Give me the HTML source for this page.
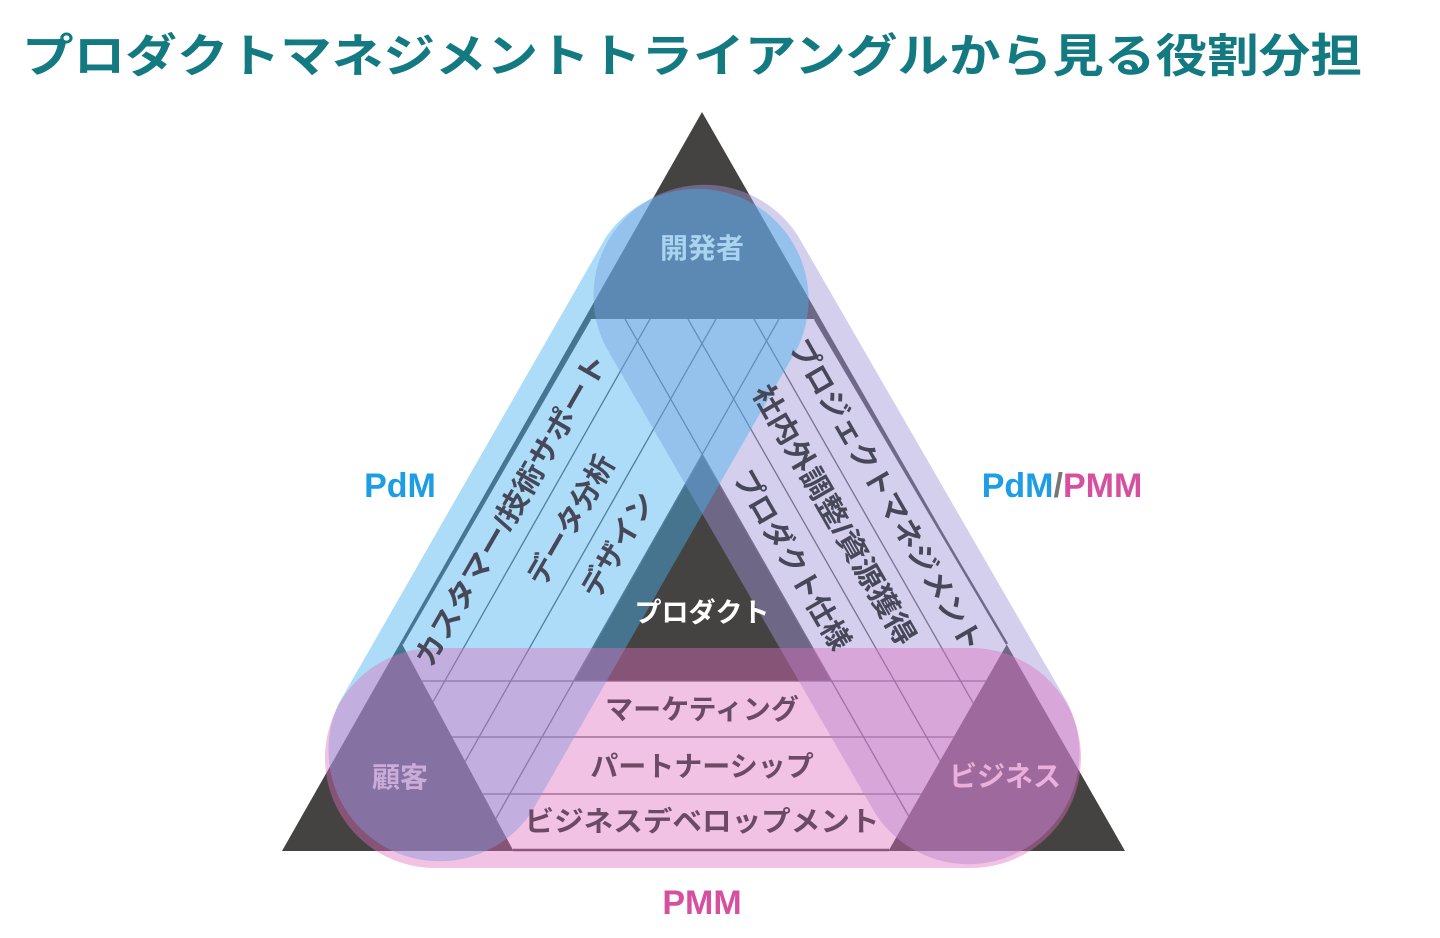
<!DOCTYPE html>
<html><head><meta charset="utf-8"><style>
html,body{margin:0;padding:0;background:#fff;}
svg{display:block;}
text{font-family:"Liberation Sans","Noto Sans CJK JP",sans-serif;font-weight:bold;}
</style></head><body>
<svg width="1440" height="938" viewBox="0 0 1440 938" xmlns="http://www.w3.org/2000/svg">
<defs>
<clipPath id="hex"><polygon points="590,319 815,319 1007,644 889,850 513,850 402,644"/></clipPath>
</defs>
<text x="22" y="72" font-size="46" fill="#137a82" textLength="1340" lengthAdjust="spacingAndGlyphs">プロダクトマネジメントトライアングルから見る役割分担</text>

<polygon points="702,112 282,851 1125,851" fill="#454342"/>
<polygon points="590,319 815,319 1007,644 889,850 513,850 402,644" fill="#ffffff"/>
<polygon points="702,454 573,681 831,681" fill="#454342"/>

<g clip-path="url(#hex)" stroke="#5a5560" stroke-width="1.3" fill="none">
  <line x1="650" y1="319" x2="349" y2="850"/>
  <line x1="716" y1="319" x2="415" y2="850"/>
  <line x1="779" y1="319" x2="478" y2="850"/>
  <line x1="625" y1="319" x2="928" y2="850"/>
  <line x1="688" y1="319" x2="991" y2="850"/>
  <line x1="754" y1="319" x2="1057" y2="850"/>
  <line x1="300" y1="681" x2="1100" y2="681"/>
  <line x1="300" y1="737" x2="1100" y2="737"/>
  <line x1="300" y1="794" x2="1100" y2="794"/>
</g>
<g stroke="#4a4550" stroke-width="2.5" fill="none">
  <line x1="590" y1="319" x2="402" y2="644"/>
  <line x1="815" y1="319" x2="1007" y2="644"/>
  <line x1="513" y1="850" x2="889" y2="850"/>
</g>

<!-- lavender right capsule -->
<path d="M 798,236 L 1067,702 A 111 111 0 0 1 875,813 L 606,347 A 111 111 0 0 1 798,236 Z" fill="rgba(160,148,215,0.45)"/>
<!-- blue left capsule -->
<path d="M 798,347 L 531,813 A 111 111 0 0 1 339,703 L 606,237 A 111 111 0 0 1 798,347 Z" fill="rgba(70,178,238,0.45)"/>
<!-- pink bottom capsule -->
<path d="M 435,648 L 971,648 A 110 110 0 0 1 971,868 L 435,868 A 110 110 0 0 1 435,648 Z" fill="rgba(225,110,190,0.42)"/>

<text x="400" y="497" font-size="34" fill="#1d9de3" text-anchor="middle">PdM</text>
<text x="1062" y="497" font-size="34" text-anchor="middle"><tspan fill="#1d9de3">PdM</tspan><tspan fill="#777">/</tspan><tspan fill="#d5509f">PMM</tspan></text>
<text x="702" y="914" font-size="34" fill="#d5509f" text-anchor="middle">PMM</text>

<text x="702" y="258" font-size="28" fill="#a9d3ee" text-anchor="middle">開発者</text>
<text x="400" y="787" font-size="28" fill="#c9acd8" text-anchor="middle">顧客</text>
<text x="1005" y="786" font-size="28" fill="#eab0da" text-anchor="middle">ビジネス</text>
<text x="702" y="622" font-size="27" fill="#ffffff" text-anchor="middle">プロダクト</text>

<g fill="#47475a" font-size="29">
  <text transform="translate(511,510) rotate(-60)" text-anchor="middle" y="10" textLength="355" lengthAdjust="spacingAndGlyphs">カスタマー/技術サポート</text>
  <text transform="translate(571,520) rotate(-60)" text-anchor="middle" y="10">データ分析</text>
  <text transform="translate(618,545) rotate(-60)" text-anchor="middle" y="10">デザイン</text>
</g>
<g fill="#47475a" font-size="29">
  <text transform="translate(886,495) rotate(60)" text-anchor="middle" y="10" textLength="355" lengthAdjust="spacingAndGlyphs">プロジェクトマネジメント</text>
  <text transform="translate(834,515) rotate(60)" text-anchor="middle" y="10" textLength="295" lengthAdjust="spacingAndGlyphs">社内外調整/資源獲得</text>
  <text transform="translate(792,560) rotate(60)" text-anchor="middle" y="10">プロダクト仕様</text>
</g>
<g fill="#6a4a64" font-size="28" text-anchor="middle">
  <text x="702" y="719">マーケティング</text>
  <text x="702" y="776">パートナーシップ</text>
  <text x="702" y="831" textLength="355" lengthAdjust="spacingAndGlyphs">ビジネスデベロップメント</text>
</g>
</svg>
</body></html>
